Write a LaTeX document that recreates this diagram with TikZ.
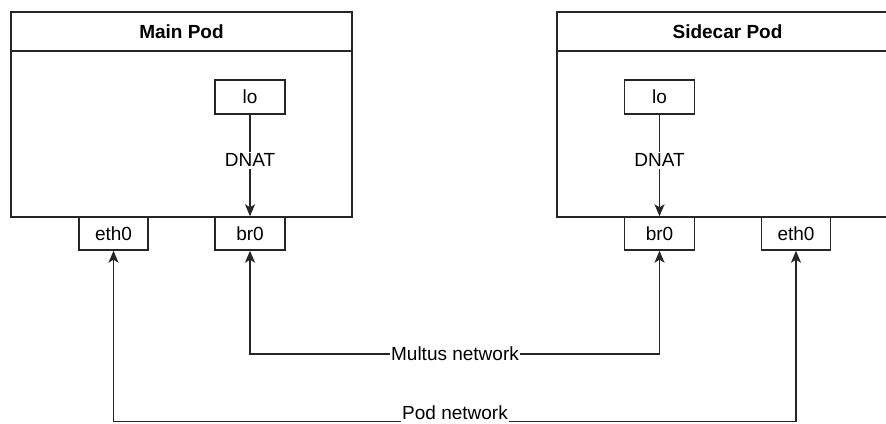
\documentclass[tikz,border=0pt]{standalone}
\usepackage{fontspec}
\setmainfont{Liberation Sans}
\usetikzlibrary{arrows.meta}
\begin{document}
\begin{tikzpicture}[x=1pt,y=-1pt,
  every node/.style={font=\fontsize{19}{22}\selectfont, inner sep=0pt},
  line/.style={line width=1.4pt, draw=black!85},
  box/.style={line, rectangle, fill=white},
  port/.style={box, minimum width=69pt, minimum height=33pt},
  tag/.style={fill=white, inner xsep=1pt, inner ysep=2pt},
  arr/.style={line, -{Stealth[length=12pt,width=10pt,inset=3pt]}},
  arrboth/.style={line, {Stealth[length=12pt,width=10pt,inset=3pt]}-{Stealth[length=12pt,width=10pt,inset=3pt]}}]
  \clip (0,0) rectangle (886,423);
  \fill[white] (0,0) rectangle (886,423);

  % Main pod: title bar and body
  \node[box, minimum width=341pt, minimum height=39pt, font=\fontsize{19}{22}\selectfont\bfseries] (mainhead) at (181.5,31.5) {Main Pod};
  \node[box, minimum width=341pt, minimum height=166pt] (mainbody) at (181.5,134) {};

  % Sidecar pod: title bar and body
  \node[box, minimum width=341pt, minimum height=39pt, font=\fontsize{19}{22}\selectfont\bfseries] (sidehead) at (727.5,31.5) {Sidecar Pod};
  \node[box, minimum width=341pt, minimum height=166pt] (sidebody) at (727.5,134) {};

  % Interfaces
  \node[port, minimum width=70pt, minimum height=34pt] (lo1) at (250,97) {lo};
  \node[port, minimum width=70pt] (br1) at (250,233.5) {br0};
  \node[port] (eth1) at (113.5,233.5) {eth0};

  \node[port, minimum width=70pt, minimum height=34pt] (lo2) at (659.5,97) {lo};
  \node[port, minimum width=70pt] (br2) at (659.5,233.5) {br0};
  \node[port] (eth2) at (796,233.5) {eth0};

  % DNAT inside each pod
  \draw[arr] (lo1) -- node[tag, pos=0.45] {DNAT} (br1);
  \draw[arr] (lo2) -- node[tag, pos=0.45] {DNAT} (br2);

  % Networks between the pods
  \coordinate (multus) at (455,354);
  \coordinate (podnet) at (455,421.5);
  \draw[arrboth] (br1.south) |- (multus) -| (br2.south);
  \node[tag] at (multus) {Multus network};
  \draw[arrboth] (eth1.south) |- (podnet) -| (eth2.south);
  \node[tag, anchor=base, inner ysep=0pt, text depth=3.8pt] at (455,419) {Pod network};
\end{tikzpicture}
\end{document}
